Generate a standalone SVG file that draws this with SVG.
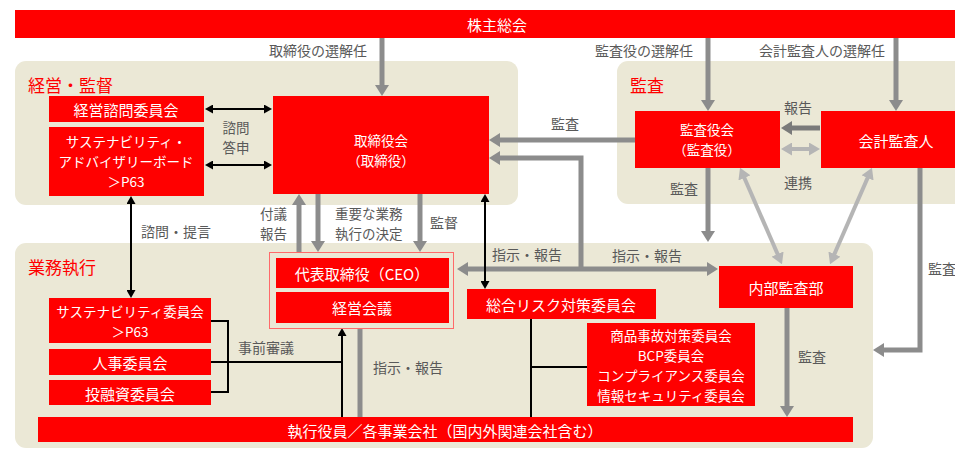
<svg xmlns="http://www.w3.org/2000/svg" width="955" height="449" viewBox="0 0 955 449">
<style>
.panel{fill:#ebe8d6}
.node{fill:#ff0000}
.nt{font-family:"Noto Sans CJK JP","Noto Sans",sans-serif;font-size:15px;fill:#ffffff;text-anchor:middle;dominant-baseline:central}
.nm{font-size:13.5px}
.pl{font-family:"Noto Sans CJK JP","Noto Sans",sans-serif;font-size:17px;fill:#ff0000;dominant-baseline:central}
.lb{font-family:"Noto Sans CJK JP","Noto Sans",sans-serif;font-size:14px;fill:#595959;dominant-baseline:central}
.lm{font-size:13.5px}
.g{stroke:#8c8c8c;stroke-width:5;fill:none}
.dg{stroke:#7a7a7a;stroke-width:5;fill:none}
.lg{stroke:#b5b5b5;stroke-width:4;fill:none}
.k{stroke:#000000;stroke-width:2;fill:none}
</style>
<defs>
<marker id="ag" viewBox="0 0 11 14" markerWidth="11" markerHeight="14" refX="1" refY="7" orient="auto-start-reverse" markerUnits="userSpaceOnUse"><path d="M0,0 L11,7 L0,14 z" fill="#8c8c8c"/></marker>
<marker id="ad" viewBox="0 0 11 14" markerWidth="11" markerHeight="14" refX="1" refY="7" orient="auto-start-reverse" markerUnits="userSpaceOnUse"><path d="M0,0 L11,7 L0,14 z" fill="#7a7a7a"/></marker>
<marker id="al" viewBox="0 0 11 13" markerWidth="11" markerHeight="13" refX="1" refY="6.5" orient="auto-start-reverse" markerUnits="userSpaceOnUse"><path d="M0,0 L11,6.5 L0,13 z" fill="#b5b5b5"/></marker>
<marker id="ak" viewBox="0 0 8 9" markerWidth="8" markerHeight="9" refX="1" refY="4.5" orient="auto-start-reverse" markerUnits="userSpaceOnUse"><path d="M0,0 L8,4.5 L0,9 z" fill="#000000"/></marker>
</defs>

<rect x="0" y="0" width="955" height="449" fill="#ffffff"/>

<g id="panel-keiei">
<rect class="panel" x="15" y="61" width="503" height="144" rx="11"/>
<text class="pl" x="28" y="84">経営・監督</text>
</g>
<g id="panel-kansa">
<rect class="panel" x="617" y="61" width="360" height="143" rx="11"/>
<text class="pl" x="630" y="84">監査</text>
</g>
<g id="panel-gyomu">
<rect class="panel" x="15" y="243" width="858" height="205" rx="11"/>
<text class="pl" x="28" y="266">業務執行</text>
</g>

<g id="connectors">
<line class="g" x1="382" y1="38" x2="382" y2="86" marker-end="url(#ag)"/>
<line class="g" x1="708" y1="38" x2="708" y2="101" marker-end="url(#ag)"/>
<line class="g" x1="896" y1="38" x2="896" y2="101" marker-end="url(#ag)"/>
<line class="g" x1="635" y1="140" x2="499" y2="140" marker-end="url(#ag)"/>
<polyline class="g" points="581,269 581,158 499,158" marker-end="url(#ag)"/>
<line class="g" x1="467" y1="269" x2="708" y2="269" marker-start="url(#ag)" marker-end="url(#ag)"/>
<line class="g" x1="708" y1="168" x2="708" y2="232" marker-end="url(#ag)"/>
<line class="g" x1="299" y1="252" x2="299" y2="204" marker-end="url(#ag)"/>
<line class="g" x1="318" y1="194" x2="318" y2="242" marker-end="url(#ag)"/>
<line class="g" x1="420" y1="194" x2="420" y2="242" marker-end="url(#ag)"/>
<line class="dg" x1="820" y1="128" x2="791" y2="128" marker-end="url(#ad)"/>
<line class="lg" x1="791" y1="149" x2="810" y2="149" marker-start="url(#al)" marker-end="url(#al)"/>
<line class="lg" x1="744" y1="177" x2="778" y2="255" marker-start="url(#al)" marker-end="url(#al)"/>
<line class="lg" x1="868" y1="177" x2="834" y2="255" marker-start="url(#al)" marker-end="url(#al)"/>
<polyline class="g" points="920,168 920,350 883,350" marker-end="url(#ag)"/>
<line class="g" x1="787" y1="308" x2="787" y2="407" marker-end="url(#ag)"/>
<line class="g" x1="360" y1="328" x2="360" y2="417"/>
<line class="k" x1="212" y1="109" x2="265" y2="109" marker-start="url(#ak)" marker-end="url(#ak)"/>
<line class="k" x1="212" y1="165" x2="265" y2="165" marker-start="url(#ak)" marker-end="url(#ak)"/>
<line class="k" x1="131" y1="203" x2="131" y2="291" marker-start="url(#ak)" marker-end="url(#ak)"/>
<line class="k" x1="485" y1="201" x2="485" y2="282" marker-start="url(#ak)" marker-end="url(#ak)"/>
<polyline class="k" points="211,321 228,321 228,392 211,392"/>
<line class="k" x1="211" y1="362" x2="342" y2="362"/>
<line class="k" x1="342" y1="417" x2="342" y2="335" marker-end="url(#ak)"/>
<line class="k" x1="531" y1="319" x2="531" y2="417"/>
<line class="k" x1="531" y1="367" x2="587" y2="367"/>
<text class="lb" x="367" y="50" text-anchor="end">取締役の選解任</text>
<text class="lb" x="693" y="50" text-anchor="end">監査役の選解任</text>
<text class="lb" x="885" y="50" text-anchor="end">会計監査人の選解任</text>
<text class="lb lm" text-anchor="middle"><tspan x="236" y="127">諮問</tspan><tspan x="236" y="147">答申</tspan></text>
<text class="lb" x="141" y="231">諮問・提言</text>
<text class="lb lm" text-anchor="end"><tspan x="287" y="213">付議</tspan><tspan x="287" y="233">報告</tspan></text>
<text class="lb lm"><tspan x="335" y="213">重要な業務</tspan><tspan x="335" y="233">執行の決定</tspan></text>
<text class="lb" x="430" y="222">監督</text>
<text class="lb" x="565" y="123" text-anchor="middle">監査</text>
<text class="lb" x="684" y="188" text-anchor="middle">監査</text>
<text class="lb" x="798" y="107" text-anchor="middle">報告</text>
<text class="lb" x="798" y="182" text-anchor="middle">連携</text>
<text class="lb" x="492" y="254">指示・報告</text>
<text class="lb" x="612" y="255">指示・報告</text>
<text class="lb" x="928" y="268">監査</text>
<text class="lb" x="798" y="356">監査</text>
<text class="lb" x="238" y="347">事前審議</text>
<text class="lb" x="373" y="367">指示・報告</text>
</g>

<g id="n-kabunushi"><rect class="node" x="15" y="10" width="940" height="28"/><text class="nt" x="497" y="24">株主総会</text></g>
<g id="n-keiei-shimon"><rect class="node" x="49" y="96" width="155" height="26"/><text class="nt" x="126" y="109">経営諮問委員会</text></g>
<g id="n-sus-board"><rect class="node" x="49" y="127" width="155" height="69"/><text class="nt nm"><tspan x="126" y="141">サステナビリティ・</tspan><tspan x="126" y="161">アドバイザリーボード</tspan><tspan x="126" y="181">＞P63</tspan></text></g>
<g id="n-torishimariyakukai"><rect class="node" x="273" y="96" width="216" height="98"/><text class="nt nm"><tspan x="381" y="140">取締役会</tspan><tspan x="381" y="160">（取締役）</tspan></text></g>
<g id="n-kansayakukai"><rect class="node" x="635" y="111" width="145" height="57"/><text class="nt nm"><tspan x="707" y="129">監査役会</tspan><tspan x="707" y="149">（監査役）</tspan></text></g>
<g id="n-kaikei"><rect class="node" x="821" y="111" width="134" height="57"/><text class="nt" x="896" y="140">会計監査人</text></g>
<g id="n-ceo-group"><rect x="269.5" y="252.5" width="184" height="76" fill="none" stroke="#ff6a6a" stroke-width="1"/></g>
<g id="n-ceo"><rect class="node" x="276" y="258" width="173" height="30"/><text class="nt" x="362" y="273">代表取締役（CEO）</text></g>
<g id="n-keieikaigi"><rect class="node" x="276" y="292" width="173" height="31"/><text class="nt" x="362" y="307">経営会議</text></g>
<g id="n-risk"><rect class="node" x="467" y="289" width="189" height="30"/><text class="nt" x="561" y="304">総合リスク対策委員会</text></g>
<g id="n-committees"><rect class="node" x="587" y="323" width="168" height="83"/><text class="nt nm"><tspan x="671" y="335">商品事故対策委員会</tspan><tspan x="671" y="355">BCP委員会</tspan><tspan x="671" y="375">コンプライアンス委員会</tspan><tspan x="671" y="395">情報セキュリティ委員会</tspan></text></g>
<g id="n-naibu"><rect class="node" x="719" y="266" width="134" height="42"/><text class="nt" x="786" y="287">内部監査部</text></g>
<g id="n-sus-iinkai"><rect class="node" x="49" y="298" width="162" height="45"/><text class="nt nm"><tspan x="130" y="311">サステナビリティ委員会</tspan><tspan x="130" y="331">＞P63</tspan></text></g>
<g id="n-jinji"><rect class="node" x="49" y="349" width="162" height="26"/><text class="nt" x="130" y="362">人事委員会</text></g>
<g id="n-toyushi"><rect class="node" x="49" y="380" width="162" height="25"/><text class="nt" x="130" y="393">投融資委員会</text></g>
<g id="n-shikko"><rect class="node" x="38" y="417" width="815" height="25"/><text class="nt" x="445" y="430">執行役員／各事業会社（国内外関連会社含む）</text></g>
</svg>
